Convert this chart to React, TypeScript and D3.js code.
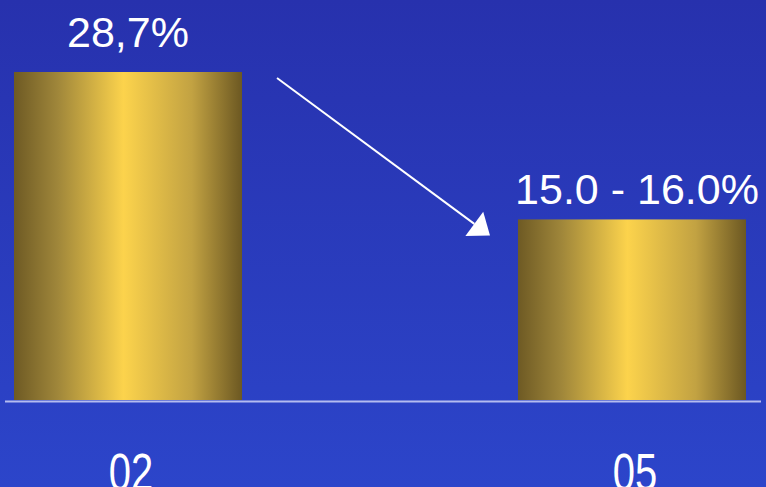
import React from "react";
import * as d3 from "d3";

const categories = ["02", "05"];
const values = [28.7, 15.8];
const valueLabels = ["28,7%", "15.0 - 16.0%"];

const W = 766;
const H = 487;

export default function App() {
  const x = d3.scaleBand<string>().domain(categories).range([14, 746]).paddingInner(0.5476).paddingOuter(0);
  const y = d3.scaleLinear().domain([0, 28.7]).range([400, 72]);
  const font = "'Liberation Sans', Arial, Helvetica, sans-serif";

  // arrow from first bar to second bar
  const x0 = (x(categories[0]) ?? 0) + x.bandwidth();
  const x1 = x(categories[1]) ?? 0;
  const start: [number, number] = [x0 + 35, y(values[0]) + 6];
  const tip: [number, number] = [x1 - 28, y(values[1]) + 16];
  const dx = tip[0] - start[0];
  const dy = tip[1] - start[1];
  const len = Math.hypot(dx, dy);
  const ux = dx / len, uy = dy / len;
  const nx = -uy, ny = ux;
  const hh = 19.5, hw = 15;
  const bx = tip[0] - ux * hh, by = tip[1] - uy * hh;
  const head = [
    [tip[0], tip[1]],
    [bx + nx * hw, by + ny * hw],
    [bx - nx * hw, by - ny * hw],
  ].map((p) => p.join(",")).join(" ");

  return (
    <svg width={W} height={H} style={{ position: "absolute", left: 0, top: 0, display: "block" }}>
      <defs>
        <linearGradient id="bg" x1="0" y1="0" x2="0" y2="1">
          <stop offset="0" stopColor="#2731AD" />
          <stop offset="1" stopColor="#2C45CA" />
        </linearGradient>
        <linearGradient id="gold" x1="0" y1="0" x2="1" y2="0">
          <stop offset="0" stopColor="#6E5A24" />
          <stop offset="0.19" stopColor="#9F863A" />
          <stop offset="0.48" stopColor="#FCD34C" />
          <stop offset="0.78" stopColor="#C2A242" />
          <stop offset="1" stopColor="#6C5822" />
        </linearGradient>
      </defs>
      <rect x={0} y={0} width={W} height={H} fill="url(#bg)" />
      {categories.map((c, i) => (
        <rect
          key={c}
          x={x(c)}
          y={y(values[i])}
          width={x.bandwidth()}
          height={y(0) - y(values[i])}
          fill="url(#gold)"
        />
      ))}
      <line x1={5} x2={761} y1={401.5} y2={401.5} stroke="#B4BCF0" strokeWidth={2} />
      {categories.map((c, i) => (
        <text
          key={"v" + c}
          x={(x(c) ?? 0) + x.bandwidth() / 2 + (i === 1 ? 5 : 0)}
          y={y(values[i]) - (i === 0 ? 25 : 15)}
          fill="#FFFFFF"
          fontFamily={font}
          fontSize={43}
          textAnchor="middle"
        >
          {valueLabels[i]}
        </text>
      ))}
      {categories.map((c) => (
        <text
          key={"c" + c}
          transform={`translate(${(x(c) ?? 0) + x.bandwidth() / 2 + 3},490) scale(1,1.3)`}
          fill="#FFFFFF"
          fontFamily={font}
          fontSize={40}
          textAnchor="middle"
        >
          {c}
        </text>
      ))}
      <line x1={start[0]} y1={start[1]} x2={bx} y2={by} stroke="#FFFFFF" strokeWidth={2} />
      <polygon points={head} fill="#FFFFFF" />
    </svg>
  );
}
